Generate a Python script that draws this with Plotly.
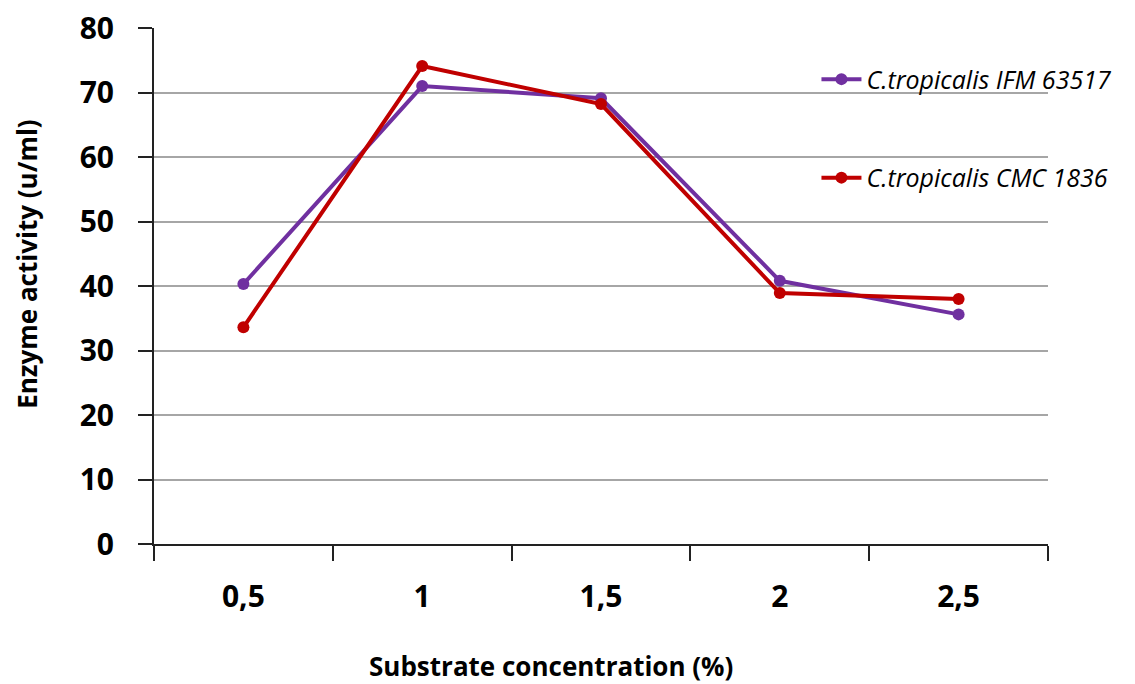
import plotly.graph_objects as go

categories = ["0,5", "1", "1,5", "2", "2,5"]
ifm_63517 = [40.3, 71.0, 69.1, 40.8, 35.6]
cmc_1836 = [33.6, 74.1, 68.2, 38.9, 38.0]
y_ticks = [0, 10, 20, 30, 40, 50, 60, 70, 80]

FONT = "Open Sans"

fig = go.Figure()
fig.add_trace(go.Scatter(
    x=categories, y=ifm_63517, mode="lines+markers",
    name="<i>C.tropicalis IFM 63517</i>",
    line=dict(color="#7030A0", width=4),
    marker=dict(color="#7030A0", size=12),
    legendgroup="a",
))
fig.add_trace(go.Scatter(
    x=categories, y=cmc_1836, mode="lines+markers",
    name="<i>C.tropicalis CMC 1836</i>",
    line=dict(color="#C00000", width=4),
    marker=dict(color="#C00000", size=12),
    legendgroup="b",
))

title_font = dict(family=FONT, size=26, color="black", weight="bold")

fig.update_layout(
    width=1135, height=684,
    margin=dict(l=154, r=87, t=28, b=140),
    paper_bgcolor="white", plot_bgcolor="white",
    font=dict(family=FONT, color="black"),
    legend=dict(
        x=0.741, y=0.945, xanchor="left", yanchor="top",
        bgcolor="rgba(0,0,0,0)",
        font=dict(family=FONT, size=25, color="black"),
        tracegroupgap=63,
        itemwidth=40,
    ),
    xaxis=dict(
        type="category", range=[-0.5, 4.5], automargin=False,
        tickson="boundaries", ticks="outside", ticklen=15, tickwidth=2, tickcolor="#222",
        showline=True, linecolor="#222", linewidth=2,
        showgrid=False,
        tickfont=dict(family=FONT, size=30, color="black", weight="bold"),
        ticklabelstandoff=25,
    ),
    yaxis=dict(
        range=[0, 80], tickvals=y_ticks, automargin=False,
        ticks="outside", ticklen=14, tickwidth=2, tickcolor="#222",
        showline=True, linecolor="#222", linewidth=2,
        showgrid=True, gridcolor="#A6A6A6", gridwidth=1.5,
        zeroline=False,
        tickfont=dict(family=FONT, size=30, color="black", weight="bold"),
        ticklabelstandoff=18,
    ),
    annotations=[
        dict(text="Substrate concentration (%)", xref="paper", yref="paper",
             x=0.444, y=-0.236, xanchor="center", yanchor="middle",
             showarrow=False, font=title_font),
        dict(text="Enzyme activity (u/ml)", xref="paper", yref="paper",
             x=-0.142, y=0.543, xanchor="center", yanchor="middle",
             textangle=-90, showarrow=False, font=title_font),
    ],
)

fig.write_html("out.html")
